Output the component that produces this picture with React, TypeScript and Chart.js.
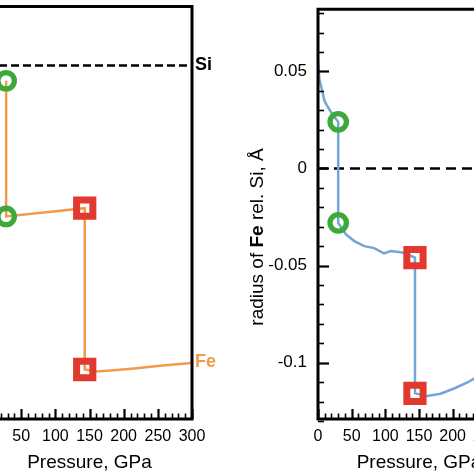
import React, { useEffect, useRef } from "react";
import { Chart, registerables } from "chart.js";
Chart.register(...registerables);

const FONT = "'Liberation Sans', Arial, Helvetica, sans-serif";

// ---------- data ----------
const pressureTicks = [0, 50, 100, 150, 200, 250, 300];

// left panel (orange Fe curve, hidden y axis in relative units)
const feLeftP = [28, 28, 143, 143, 161, 190, 219, 253, 295, 300];
const feLeftV = [0.82, 0.491, 0.511, 0.12, 0.115, 0.119, 0.123, 0.129, 0.135, 0.137];
const siLeftLevel = 0.857;
const leftCircleP = [28, 28];
const leftCircleV = [0.82, 0.491];
const leftSquareP = [143, 143];
const leftSquareV = [0.511, 0.12];

// right panel (radius of Fe relative to Si, Å)
const relP = [0, 2, 5.5, 9.5, 13, 22, 30, 30, 41.5, 54, 68.6, 83.4, 98, 108, 125.5, 144, 144, 162.5, 182, 202, 222, 233, 250];
const relV = [0.0552, 0.046, 0.041, 0.035, 0.0326, 0.0275, 0.024, -0.028, -0.034, -0.0374, -0.04, -0.041, -0.0437, -0.0425, -0.0433, -0.0459, -0.1158, -0.1172, -0.116, -0.1133, -0.1102, -0.108, -0.1055];
const rightCircleP = [30, 30];
const rightCircleV = [0.024, -0.028];
const rightSquareP = [144, 144];
const rightSquareV = [-0.0459, -0.1158];
const rightYTicks = [-0.1, -0.05, 0, 0.05];
const siRelLevel = 0;

// ---------- styles ----------
const ORANGE = "#F19A4C";
const BLUE = "#73A5D6";
const GREEN = "#3EA93B";
const RED = "#E2392E";

const CANVAS_TOP = -12;
const CANVAS_H = 486;

const zip = (xs: number[], ys: number[]) => xs.map((x, i) => ({ x, y: ys[i] }));

function tickPlugin(opts: { yTicks: boolean; frame: ("top" | "right" | "bottom" | "left")[]; labels?: { text: string; color: string; value: number }[]; yTitle?: boolean }) {
  return {
    id: "custom" + Math.floor(Math.random() * 1e6),
    afterDraw(chart: any) {
      const { ctx, chartArea } = chart;
      const { left, right, top, bottom } = chartArea;
      const xs = chart.scales.x;
      const ys = chart.scales.y;
      ctx.save();
      ctx.strokeStyle = "#000";
      ctx.lineCap = "butt";
      for (let v = 0; v <= 300; v += 10) {
        const px = Math.round(xs.getPixelForValue(v)) + 0.5;
        const major = v % 50 === 0;
        ctx.lineWidth = major ? 2.2 : 1.6;
        ctx.beginPath();
        ctx.moveTo(px, bottom);
        ctx.lineTo(px, bottom - (major ? 10 : 5.5));
        ctx.stroke();
      }
      if (opts.yTicks) {
        for (let k = -13; k <= 8; k++) {
          const py = Math.round(ys.getPixelForValue(k / 100)) + 0.5;
          const major = k % 5 === 0;
          ctx.lineWidth = major ? 2.2 : 1.6;
          ctx.beginPath();
          ctx.moveTo(left, py);
          ctx.lineTo(left + (major ? 11 : 6), py);
          ctx.stroke();
        }
      }
      ctx.lineWidth = 3;
      ctx.lineCap = "square";
      ctx.beginPath();
      if (opts.frame.includes("top")) { ctx.moveTo(left, top); ctx.lineTo(right, top); }
      if (opts.frame.includes("right")) { ctx.moveTo(right, top); ctx.lineTo(right, bottom); }
      if (opts.frame.includes("bottom")) { ctx.moveTo(left, bottom); ctx.lineTo(right, bottom); }
      if (opts.frame.includes("left")) { ctx.moveTo(left, top); ctx.lineTo(left, bottom); }
      ctx.stroke();
      if (opts.labels) {
        ctx.font = `bold 18px ${FONT}`;
        ctx.textBaseline = "middle";
        ctx.textAlign = "left";
        for (const l of opts.labels) {
          ctx.fillStyle = l.color;
          ctx.fillText(l.text, right + 3, ys.getPixelForValue(l.value));
        }
      }
      if (opts.yTitle) {
        const parts: [string, string][] = [
          ["radius of ", `19px ${FONT}`],
          ["Fe", `bold 19px ${FONT}`],
          [" rel. Si, Å", `19px ${FONT}`],
        ];
        let total = 0;
        for (const [t, f] of parts) { ctx.font = f; total += ctx.measureText(t).width; }
        ctx.translate(26, 237 - CANVAS_TOP);
        ctx.rotate(-Math.PI / 2);
        ctx.fillStyle = "#000";
        ctx.textBaseline = "alphabetic";
        ctx.textAlign = "left";
        let cx = -total / 2;
        for (const [t, f] of parts) { ctx.font = f; ctx.fillText(t, cx, 0); cx += ctx.measureText(t).width; }
      }
      ctx.restore();
    },
  };
}

function xAxis() {
  return {
    type: "linear",
    min: 0,
    max: 300,
    afterBuildTicks: (s: any) => { s.ticks = pressureTicks.map((v) => ({ value: v })); },
    afterFit: (s: any) => { s.height = 55; },
    grid: { display: false, drawTicks: false },
    border: { display: false },
    ticks: { color: "#000", font: { family: FONT, size: 16 }, padding: 8, maxRotation: 0, autoSkip: false },
    title: { display: true, text: "Pressure, GPa", color: "#000", font: { family: FONT, size: 19 }, padding: { top: 0, bottom: 0 } },
  };
}

function markerSets(cp: number[], cv: number[], sp: number[], sv: number[]) {
  return [
    { data: zip(cp, cv), showLine: false, pointStyle: "circle", pointRadius: 8.2, pointHoverRadius: 8.2, pointBorderWidth: 5.3, pointBorderColor: GREEN, pointBackgroundColor: "rgba(0,0,0,0)", clip: false },
    { data: zip(sp, sv), showLine: false, pointStyle: "rect", pointRadius: 11.5, pointHoverRadius: 11.5, pointBorderWidth: 7, pointBorderColor: RED, pointBackgroundColor: "rgba(0,0,0,0)", clip: false },
  ];
}

export default function App() {
  const leftRef = useRef<HTMLCanvasElement>(null);
  const rightRef = useRef<HTMLCanvasElement>(null);

  useEffect(() => {
    const left = new Chart(leftRef.current!, {
      type: "line",
      data: {
        datasets: [
          ...markerSets(leftCircleP, leftCircleV, leftSquareP, leftSquareV),
          { data: zip(feLeftP, feLeftV), borderColor: ORANGE, borderWidth: 2.5, pointRadius: 0, tension: 0 },
          { data: [{ x: 0, y: siLeftLevel }, { x: 300, y: siLeftLevel }], borderColor: "#000", borderWidth: 2.5, borderDash: [8, 4], pointRadius: 0 },
        ] as any,
      },
      options: {
        animation: false,
        responsive: false,
        devicePixelRatio: 1,
        layout: { padding: { left: 67, right: 48, top: 0, bottom: 0 } },
        plugins: { legend: { display: false }, tooltip: { enabled: false } },
        scales: {
          x: xAxis() as any,
          y: { type: "linear", min: 0, max: 1, display: false },
        },
      },
      plugins: [tickPlugin({ yTicks: false, frame: ["top", "right", "bottom"], labels: [{ text: "Si", color: "#000", value: siLeftLevel }, { text: "Fe", color: ORANGE, value: feLeftV[feLeftV.length - 1] }] })],
    });

    const right = new Chart(rightRef.current!, {
      type: "line",
      data: {
        datasets: [
          ...markerSets(rightCircleP, rightCircleV, rightSquareP, rightSquareV),
          { data: zip(relP, relV), borderColor: BLUE, borderWidth: 2.5, pointRadius: 0, tension: 0 },
          { data: [{ x: 0, y: siRelLevel }, { x: 300, y: siRelLevel }], borderColor: "#000", borderWidth: 2.5, borderDash: [10, 6], pointRadius: 0 },
        ] as any,
      },
      options: {
        animation: false,
        responsive: false,
        devicePixelRatio: 1,
        layout: { padding: { left: 0, right: 37, top: 0, bottom: 0 } },
        plugins: { legend: { display: false }, tooltip: { enabled: false } },
        scales: {
          x: xAxis() as any,
          y: {
            type: "linear",
            min: -0.129,
            max: 0.082,
            afterBuildTicks: (s: any) => { s.ticks = rightYTicks.map((v) => ({ value: v })); },
            afterFit: (s: any) => { s.width = 81; },
            grid: { display: false, drawTicks: false },
            border: { display: false },
            ticks: { color: "#000", font: { family: FONT, size: 17 }, padding: 11, callback: (v: any) => String(+Number(v).toFixed(2)) },
          } as any,
        },
      },
      plugins: [tickPlugin({ yTicks: true, frame: ["top", "left", "bottom", "right"], yTitle: true })],
    });

    return () => { left.destroy(); right.destroy(); };
  }, []);

  return (
    <div style={{ position: "fixed", left: 0, top: 0, width: 474, height: 474, overflow: "hidden", background: "#fff" }}>
      <div style={{ position: "absolute", left: -80, top: CANVAS_TOP, width: 320, height: CANVAS_H }}>
        <canvas ref={leftRef} width={320} height={CANVAS_H} style={{ display: "block" }} />
      </div>
      <div style={{ position: "absolute", left: 237, top: CANVAS_TOP, width: 320, height: CANVAS_H }}>
        <canvas ref={rightRef} width={320} height={CANVAS_H} style={{ display: "block" }} />
      </div>
    </div>
  );
}
